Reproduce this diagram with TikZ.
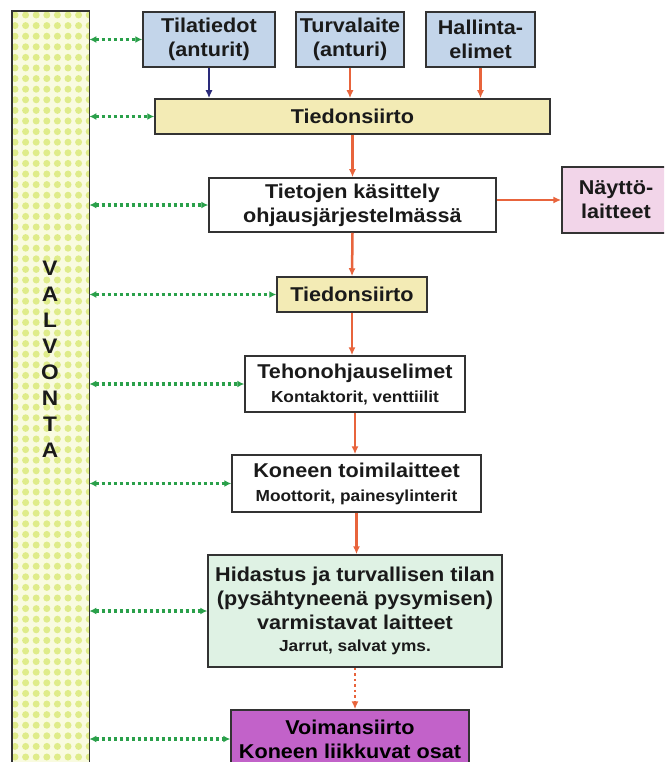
\documentclass[tikz,border=0pt]{standalone}
\usepackage{fontspec}
\setmainfont{Liberation Sans}[FakeStretch=1.08]
\usetikzlibrary{arrows.meta}
\definecolor{boxline}{HTML}{333333}
\definecolor{txt}{HTML}{1A1A1A}
\definecolor{bluebox}{HTML}{C3D5EA}
\definecolor{yelbox}{HTML}{F3EBB5}
\definecolor{pinkbox}{HTML}{F2D5E9}
\definecolor{mintbox}{HTML}{DFF2E4}
\definecolor{purpbox}{HTML}{C262C9}
\definecolor{flowred}{HTML}{E8643C}
\definecolor{navy}{HTML}{2A2A7A}
\definecolor{mongreen}{HTML}{2AA04A}
\definecolor{barbg}{HTML}{F9FBE0}
\definecolor{bardot}{HTML}{DFEC8A}
\begin{document}
\begin{tikzpicture}[x=1pt,y=-1pt,
  box/.style={draw=boxline, line width=1.5pt, rectangle, inner sep=0pt, align=center,
    text=txt, font=\bfseries\fontsize{20}{24}\selectfont},
  flow/.style={draw=flowred, line width=2.5pt, -{Latex[length=8pt,width=7pt]}},
  flownavy/.style={draw=navy, line width=2.5pt, -{Latex[length=8pt,width=7pt]}},
  flowdot/.style={draw=flowred, line width=2.5pt, dash pattern=on 2.5pt off 3pt, -{Latex[length=8pt,width=7pt]}},
  mon/.style={draw=mongreen, line width=3.2pt, dash pattern=on 3pt off 3pt,
    {Latex[length=7pt,width=7pt]}-{Latex[length=7pt,width=7pt]}}
]
\clip (0,0) rectangle (664,762);
\fill[white] (0,0) rectangle (664,762);
% monitoring bar
\node[fill=barbg, minimum width=77pt, minimum height=790pt, inner sep=0pt, anchor=north west] (bar) at (12,11) {};
\begin{scope}
  \clip (bar.north west) rectangle (bar.south east);
  \foreach \i in {0,...,7}
    \foreach \j in {0,...,75}
      \fill[bardot] (15+\i*10.6, 15+\j*10.6) circle (3.5pt);
\end{scope}
\draw[boxline, line width=1.8pt] (bar.north west) rectangle (bar.south east);
\node[font=\bfseries\fontsize{21}{26}\selectfont, align=center, text=txt] (valv) at (50,359) {V\\A\\L\\V\\O\\N\\T\\A};

% boxes
\node[box, fill=bluebox, minimum width=132pt, minimum height=55pt] (tila) at (209,39.5) {Tilatiedot\\(anturit)};
\node[box, fill=bluebox, minimum width=108pt, minimum height=55pt] (turva) at (350,39.5) {Turvalaite\\(anturi)};
\node[box, fill=bluebox, minimum width=109pt, minimum height=55pt] (hall) at (480.5,39.5) {Hallinta-\\elimet};
\node[box, fill=yelbox, minimum width=395pt, minimum height=35pt] (tied1) at (352.5,116.5) {Tiedonsiirto};
\node[box, fill=white, minimum width=287pt, minimum height=54pt] (tiet) at (352.5,205) {Tietojen käsittely\\ohjausjärjestelmässä};
\node[box, fill=pinkbox, minimum width=108pt, minimum height=66pt] (nayt) at (616,200) {Näyttö-\\laitteet};
\node[box, fill=yelbox, minimum width=150pt, minimum height=35pt] (tied2) at (352,294.5) {Tiedonsiirto};
\node[box, fill=white, minimum width=220pt, minimum height=56pt] (tehon) at (355,384) {Tehonohjauselimet\\{\fontsize{16}{20}\selectfont Kontaktorit, venttiilit}};
\node[box, fill=white, minimum width=249pt, minimum height=57pt] (kone) at (356.5,483.5) {Koneen toimilaitteet\\{\fontsize{16}{20}\selectfont Moottorit, painesylinterit}};
\node[box, fill=mintbox, minimum width=294pt, minimum height=112pt] (hida) at (355,611) {Hidastus ja turvallisen tilan\\(pysähtyneenä pysymisen)\\varmistavat laitteet\\[-2pt]{\fontsize{16}{20}\selectfont Jarrut, salvat yms.}};
\node[box, fill=purpbox, minimum width=238pt, minimum height=58pt, text=black] (voima) at (350,739) {Voimansiirto\\Koneen liikkuvat osat};

% flow arrows
\draw[flownavy] (tila.south) -- (tila.south |- tied1.north);
\draw[flow] (turva.south) -- (turva.south |- tied1.north);
\draw[flow] (hall.south) -- (hall.south |- tied1.north);
\draw[flow] (tied1.south) -- (tiet.north);
\draw[flow] (nayt.west -| tiet.east) -- (nayt.west);
\draw[flow] (tiet.south) -- (tied2.north);
\draw[flow] (tied2.south) -- (tied2.south |- tehon.north);
\draw[flow] (tehon.south) -- (tehon.south |- kone.north);
\draw[flow] (kone.south) -- (kone.south |- hida.north);
\draw[flowdot] (hida.south) -- (hida.south |- voima.north);

% monitoring arrows
\foreach \n in {tila,tied1,tiet,tied2,tehon,kone,hida,voima}
  \draw[mon] (bar.east |- \n.west) -- (\n.west);
\end{tikzpicture}
\end{document}
